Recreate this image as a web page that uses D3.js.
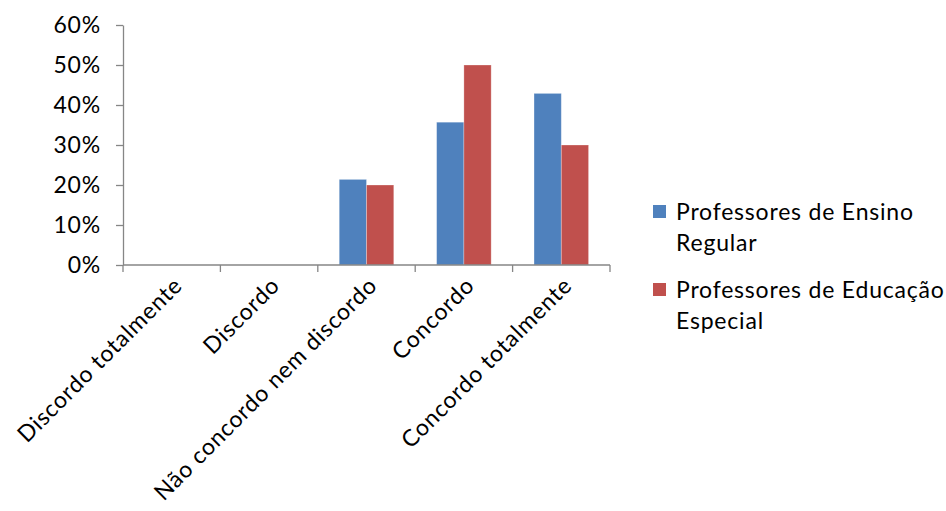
<!DOCTYPE html>
<html>
<head>
<meta charset="utf-8">
<script src="https://cdn.jsdelivr.net/npm/d3@7"></script>
<style>
  html, body { margin: 0; padding: 0; background: #fff; }
  svg text { font-family: Lato, "Open Sans", sans-serif; fill: #000; letter-spacing: 0.8px; }
</style>
</head>
<body>
<svg id="chart" width="946" height="511"></svg>
<script>
// Response categories and the share of each teacher group
const categories = ["Discordo totalmente", "Discordo", "Não concordo nem discordo", "Concordo", "Concordo totalmente"];
const seriesNames = ["Professores de Ensino Regular", "Professores de Educação Especial"];
const ensinoRegular = [0, 0, 0.214, 0.357, 0.429];
const educacaoEspecial = [0, 0, 0.20, 0.50, 0.30];
const yTicks = [0, 0.1, 0.2, 0.3, 0.4, 0.5, 0.6];
const colors = ["#4F81BD", "#C0504D"];

const svg = d3.select("#chart");
const plotLeft = 123, plotRight = 610, plotTop = 25, plotBottom = 265;
const fontSize = 23;

const x = d3.scaleBand().domain(categories).range([plotLeft, plotRight]).paddingInner(0.44).paddingOuter(0.22);
const xSeries = d3.scaleBand().domain([0, 1]).range([0, x.bandwidth()]);
const y = d3.scaleLinear().domain([0, 0.6]).range([plotBottom, plotTop]);

const series = [ensinoRegular, educacaoEspecial];

// bars
series.forEach((vals, si) => {
  svg.append("g").selectAll("rect")
    .data(categories)
    .join("rect")
    .attr("x", d => x(d) + xSeries(si))
    .attr("y", (d, i) => y(vals[i]))
    .attr("width", xSeries.bandwidth())
    .attr("height", (d, i) => y(0) - y(vals[i]))
    .attr("fill", colors[si])
    .attr("stroke", "rgba(255,255,255,0.35)")
    .attr("stroke-width", 0.8);
});

// y axis
const yAxis = svg.append("g")
  .attr("transform", `translate(${plotLeft},0)`)
  .call(d3.axisLeft(y).tickValues(yTicks).tickFormat(d3.format(".0%")).tickSize(7).tickSizeOuter(0).tickPadding(15));
yAxis.selectAll("path, line").attr("stroke", "#868686").attr("stroke-width", 1.3);
yAxis.selectAll("text").attr("font-size", fontSize).attr("fill", "#000").attr("font-family", null);

// x axis with ticks at category boundaries
const boundaries = d3.range(categories.length + 1).map(i => plotLeft + i * ((plotRight - plotLeft) / categories.length));
const xg = svg.append("g");
xg.append("line").attr("x1", plotLeft).attr("x2", plotRight).attr("y1", plotBottom).attr("y2", plotBottom)
  .attr("stroke", "#868686").attr("stroke-width", 1.3);
xg.selectAll("line.tick").data(boundaries).join("line")
  .attr("class", "tick")
  .attr("x1", d => d).attr("x2", d => d)
  .attr("y1", plotBottom).attr("y2", plotBottom + 7)
  .attr("stroke", "#868686").attr("stroke-width", 1.3);

xg.selectAll("text").data(categories).join("text")
  .attr("transform", d => `translate(${x(d) + x.bandwidth() / 2 + 12},${plotBottom + 22}) rotate(-45)`)
  .attr("text-anchor", "end")
  .attr("font-size", fontSize)
  .text(d => d);

// legend
const legendLines = [["Professores de Ensino", "Regular"], ["Professores de Educação", "Especial"]];
const lg = svg.append("g");
legendLines.forEach((lines, i) => {
  const y0 = 220 + i * 78;
  lg.append("rect").attr("x", 653).attr("y", y0 - 15).attr("width", 13).attr("height", 13).attr("fill", colors[i]);
  const t = lg.append("text").attr("x", 676).attr("y", y0).attr("font-size", fontSize);
  lines.forEach((ln, j) => {
    t.append("tspan").attr("x", 676).attr("dy", j === 0 ? 0 : 31).text(ln);
  });
});
</script>
</body>
</html>
